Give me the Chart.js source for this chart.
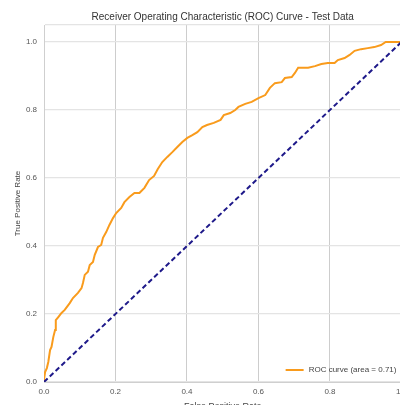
<!DOCTYPE html>
<html>
<head>
<meta charset="utf-8">
<script src="https://cdn.jsdelivr.net/npm/chart.js@4/dist/chart.umd.min.js"></script>
<style>
  html, body { margin: 0; padding: 0; background: #ffffff; overflow: hidden; }
  #wrap { width: 412px; height: 412px; }
</style>
</head>
<body>
<div id="wrap"><canvas id="roc" width="412" height="412"></canvas></div>
<script>
// ROC curve of the classifier on the test set
const fpr = [0, 0, 0.003, 0.008, 0.012, 0.017, 0.021, 0.026, 0.031, 0.033, 0.040, 0.049, 0.058,
  0.072, 0.081, 0.095, 0.105, 0.109, 0.114, 0.123, 0.128, 0.137, 0.142, 0.151, 0.160, 0.165,
  0.174, 0.183, 0.193, 0.202, 0.216, 0.225, 0.239, 0.253, 0.267, 0.281, 0.294, 0.308, 0.318,
  0.331, 0.345, 0.359, 0.373, 0.387, 0.401, 0.415, 0.429, 0.443, 0.456, 0.475, 0.494, 0.503,
  0.521, 0.535, 0.544, 0.563, 0.581, 0.600, 0.619, 0.632, 0.646, 0.665, 0.674, 0.693, 0.702,
  0.711, 0.739, 0.758, 0.776, 0.794, 0.813, 0.822, 0.841, 0.855, 0.869, 0.887, 0.906, 0.924,
  0.943, 0.956, 1.0];
const tpr = [0, 0.006, 0.029, 0.041, 0.059, 0.094, 0.103, 0.132, 0.153, 0.182, 0.191, 0.203, 0.212,
  0.232, 0.247, 0.262, 0.276, 0.291, 0.315, 0.324, 0.344, 0.353, 0.374, 0.397, 0.403, 0.424,
  0.441, 0.462, 0.482, 0.497, 0.512, 0.529, 0.544, 0.556, 0.556, 0.571, 0.594, 0.606, 0.626,
  0.647, 0.662, 0.676, 0.691, 0.706, 0.718, 0.726, 0.735, 0.750, 0.756, 0.762, 0.771, 0.785,
  0.791, 0.800, 0.809, 0.818, 0.824, 0.835, 0.844, 0.865, 0.879, 0.882, 0.894, 0.897, 0.909,
  0.924, 0.924, 0.929, 0.935, 0.938, 0.938, 0.947, 0.953, 0.962, 0.974, 0.979, 0.982, 0.985,
  0.991, 1.0, 1.0];
const chanceX = [0, 1];
const chanceY = [0, 1];
const rocAuc = 0.71;
const xTicks = [0, 0.2, 0.4, 0.6, 0.8, 1.0];
const yTicks = [0, 0.2, 0.4, 0.6, 0.8, 1.0];
const yTop = 1.05;

Chart.defaults.font.family = "'Liberation Sans', Arial, sans-serif";
Chart.defaults.color = '#555555';

// Legend drawn in the lower-right corner inside the plot
const cornerLegend = {
  id: 'cornerLegend',
  afterDraw(chart) {
    const { ctx, chartArea } = chart;
    const ds = chart.data.datasets[0];
    ctx.save();
    ctx.font = "8px 'Liberation Sans', Arial, sans-serif";
    const w = ctx.measureText(ds.label).width;
    const y = chartArea.bottom - 12;
    const tx = chartArea.right - 5 - w;
    ctx.strokeStyle = ds.borderColor;
    ctx.lineWidth = 2;
    ctx.beginPath();
    ctx.moveTo(tx - 23, y);
    ctx.lineTo(tx - 5, y);
    ctx.stroke();
    ctx.fillStyle = '#444444';
    ctx.textBaseline = 'middle';
    ctx.fillText(ds.label, tx, y);
    ctx.restore();
  }
};

new Chart(document.getElementById('roc'), {
  type: 'scatter',
  data: {
    datasets: [
      {
        label: 'ROC curve (area = ' + rocAuc.toFixed(2) + ')',
        data: fpr.map((x, i) => ({ x, y: tpr[i] })),
        showLine: true,
        borderColor: '#f99b1c',
        borderWidth: 2,
        pointRadius: 0,
        tension: 0,
        order: 1
      },
      {
        label: 'chance',
        data: chanceX.map((x, i) => ({ x, y: chanceY[i] })),
        showLine: true,
        borderColor: '#1f1a8a',
        borderWidth: 2,
        borderDash: [5, 3],
        pointRadius: 0,
        order: 0
      }
    ]
  },
  options: {
    responsive: false,
    animation: false,
    devicePixelRatio: 1,
    layout: { padding: { left: 0, top: 0, right: 8, bottom: 0 } },
    plugins: {
      legend: { display: false },
      tooltip: { enabled: false },
      title: {
        display: true,
        fullSize: false,
        text: 'Receiver Operating Characteristic (ROC) Curve - Test Data',
        color: '#333333',
        font: { size: 10, weight: 'normal' },
        padding: { top: 11, bottom: 2 }
      }
    },
    scales: {
      x: {
        type: 'linear',
        min: 0,
        max: 1,
        afterBuildTicks: (s) => { s.ticks = xTicks.map(v => ({ value: v })); },
        afterFit: (s) => { s.height = 30; },
        ticks: { font: { size: 8 }, padding: 5, callback: (v) => v.toFixed(1) },
        grid: { color: '#cdcdcd', lineWidth: 1, drawTicks: false },
        border: { color: '#cfcfcf', width: 1 },
        title: { display: true, text: 'False Positive Rate', color: '#444444', font: { size: 9 }, padding: 0 }
      },
      y: {
        type: 'linear',
        min: 0,
        max: yTop,
        afterBuildTicks: (s) => { s.ticks = yTicks.concat([yTop]).map(v => ({ value: v })); },
        afterFit: (s) => { s.width = 44; },
        ticks: { font: { size: 8 }, padding: 7, callback: (v) => (v > 1.0001 ? '' : v.toFixed(1)) },
        grid: { color: '#e4e4e4', lineWidth: 1.2, drawTicks: false },
        border: { color: '#cfcfcf', width: 1 },
        title: { display: true, text: 'True Positive Rate', color: '#444444', font: { size: 8 }, padding: { top: 13 } }
      }
    }
  },
  plugins: [cornerLegend]
});
</script>
</body>
</html>
